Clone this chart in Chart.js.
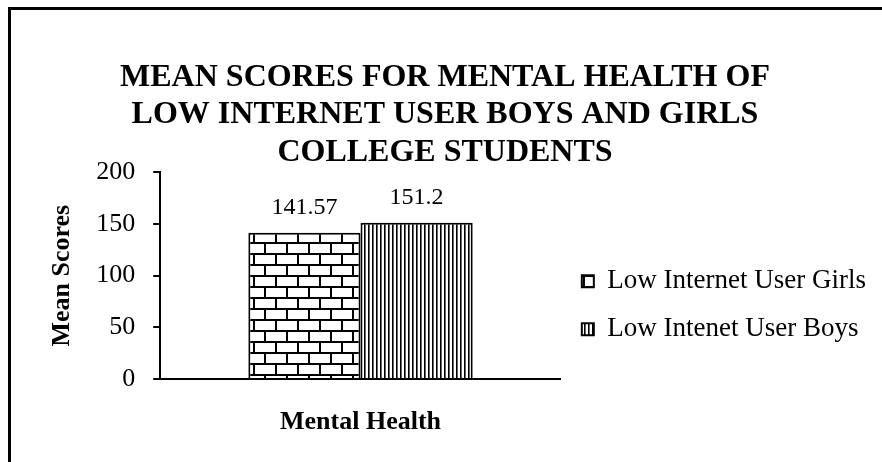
<!DOCTYPE html>
<html>
<head>
<meta charset="utf-8">
<script src="https://cdn.jsdelivr.net/npm/chart.js@4/dist/chart.umd.min.js"></script>
<style>
  html, body { margin: 0; padding: 0; background: #fff; }
  #frame { position: absolute; left: 8px; top: 7px; width: 900px; height: 500px; border-left: 3px solid #000; border-top: 3px solid #000; }
  #c { position: absolute; left: 0; top: 0; }
</style>
</head>
<body>
<div id="frame"></div>
<canvas id="c" width="882" height="462"></canvas>
<script>
const categories = ["Mental Health"];
const girlsValues = [141.57];
const boysValues = [151.2];
const seriesNames = ["Low Internet User Girls", "Low Intenet User Boys"];
const titleLines = ["MEAN SCORES FOR MENTAL HEALTH OF", "LOW INTERNET USER BOYS AND GIRLS", "COLLEGE STUDENTS"];
const yTicks = [0, 50, 100, 150, 200];

const SERIF = "'Liberation Serif', 'Times New Roman', serif";

function brickPattern(ctx) {
  const c = document.createElement('canvas');
  c.width = 22; c.height = 22;
  const g = c.getContext('2d');
  g.fillStyle = '#fff'; g.fillRect(0, 0, 22, 22);
  g.fillStyle = '#000';
  g.fillRect(0, 0, 22, 2);
  g.fillRect(0, 11, 22, 2);
  g.fillRect(0, 0, 2, 11);
  g.fillRect(11, 11, 2, 11);
  return ctx.createPattern(c, 'repeat');
}
function stripePattern(ctx) {
  const c = document.createElement('canvas');
  c.width = 4; c.height = 4;
  const g = c.getContext('2d');
  g.fillStyle = '#fff'; g.fillRect(0, 0, 4, 4);
  g.fillStyle = '#000'; g.fillRect(0, 0, 1, 4);
  g.fillStyle = '#666'; g.fillRect(1, 0, 1, 4);
  return ctx.createPattern(c, 'repeat');
}

const canvas = document.getElementById('c');
const ctx = canvas.getContext('2d');

const valueLabels = {
  id: 'valueLabels',
  afterDatasetsDraw(chart) {
    const c = chart.ctx;
    c.save();
    c.font = '24px ' + SERIF;
    c.fillStyle = '#000';
    c.textAlign = 'center';
    c.textBaseline = 'middle';
    chart.data.datasets.forEach((ds, i) => {
      const meta = chart.getDatasetMeta(i);
      meta.data.forEach((el, j) => {
        c.fillText(String(ds.data[j]), el.x, el.y - 25);
      });
    });
    c.restore();
  }
};

// legend spans plot area plus x-axis band, so it is centred like the original
const legendSpan = {
  id: 'legendSpan',
  afterLayout(chart) {
    const L = chart.legend;
    if (!L) return;
    L.top = chart.chartArea.top;
    L.bottom = chart.scales.x.bottom;
    L.height = L.bottom - L.top;
  }
};

new Chart(ctx, {
  type: 'bar',
  data: {
    labels: categories,
    datasets: [
      { label: seriesNames[0], data: girlsValues, backgroundColor: brickPattern(ctx), borderColor: '#000', borderWidth: 2 },
      { label: seriesNames[1], data: boysValues, backgroundColor: stripePattern(ctx), borderColor: '#000', borderWidth: 2 }
    ]
  },
  options: {
    responsive: false,
    animation: false,
    devicePixelRatio: 1,
    layout: { padding: { left: 14, right: 6, top: 51, bottom: 24 } },
    datasets: { bar: { categoryPercentage: 0.56, barPercentage: 1.0 } },
    plugins: {
      title: {
        display: true,
        text: titleLines,
        color: '#000',
        font: { family: SERIF, size: 32, weight: 'bold', lineHeight: 1.17 },
        padding: { top: 8, bottom: 1 }
      },
      legend: {
        position: 'right',
        maxWidth: 340,
        labels: {
          color: '#000',
          font: { family: SERIF, size: 27 },
          boxWidth: 12, boxHeight: 12,
          padding: 21
        }
      },
      tooltip: { enabled: false }
    },
    scales: {
      x: {
        grid: { display: false, drawTicks: false },
        border: { display: true, color: '#000', width: 2 },
        ticks: { color: '#000', font: { family: SERIF, size: 26, weight: 'bold' }, padding: 28, maxRotation: 0 },
        afterFit(scale) { scale.height = 59; }
      },
      y: {
        min: 0, max: 200,
        afterBuildTicks(axis) { axis.ticks = yTicks.map(v => ({ value: v })); },
        grid: { display: true, drawOnChartArea: false, drawTicks: true, tickLength: 7, color: '#000', lineWidth: 2 },
        border: { display: true, color: '#000', width: 2 },
        ticks: { color: '#000', font: { family: SERIF, size: 26 }, padding: 18 },
        title: { display: true, text: 'Mean Scores', color: '#000', font: { family: SERIF, size: 26, weight: 'bold' }, padding: { top: 33, bottom: 0 } }
      }
    }
  },
  plugins: [valueLabels, legendSpan]
});
</script>
</body>
</html>
